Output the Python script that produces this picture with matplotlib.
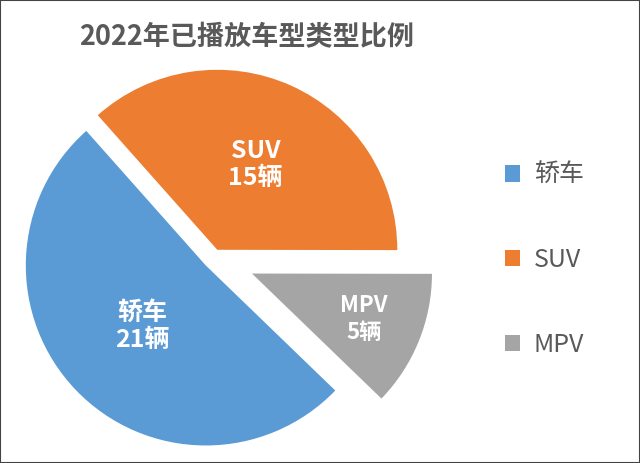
import numpy as np
import matplotlib.pyplot as plt
from matplotlib.patches import Rectangle

plt.rcParams['font.family'] = ['Noto Sans CJK SC', 'DejaVu Sans']

categories = ['轿车', 'SUV', 'MPV']
counts = [21, 15, 5]
colors = ['#5B9BD5', '#ED7D31', '#A5A5A5']
explode = [0.06, 0.05, 0.23]

W, H = 640, 463
fig = plt.figure(figsize=(W / 100, H / 100), dpi=100)
ax = fig.add_axes([0, 0, 1, 1])

R = 180
cx, cy = 213.6, H - 258
# explode is in data units here, so scale by radius
wedges, texts = ax.pie(counts, colors=colors, explode=[e * R for e in explode],
                       startangle=-44, counterclock=False, radius=R, center=(cx, cy),
                       wedgeprops=dict(linewidth=0))
ax.set_xlim(0, W)
ax.set_ylim(0, H)
ax.set_aspect('equal')
ax.axis('off')

label_r = [0.49, 0.52, 0.67]
label_size = [18, 18, 16]
for w, cat, n, fr, fs in zip(wedges, categories, counts, label_r, label_size):
    ang = np.deg2rad((w.theta1 + w.theta2) / 2)
    wx, wy = w.center
    r = w.r * fr
    ax.text(wx + r * np.cos(ang), wy + r * np.sin(ang), f'{cat}\n{n}辆',
            ha='center', va='center', color='white', fontsize=fs,
            fontweight='bold', linespacing=1.2)

fig.text(247 / W, 1 - 37 / H, '2022年已播放车型类型比例', ha='center', va='center',
         fontsize=19.5, fontweight='bold', color='#595959')

leg = ax.legend(wedges, categories, loc='center left', bbox_to_anchor=(482 / W, 1 - 260 / H),
                bbox_transform=fig.transFigure, frameon=False, fontsize=18,
                labelspacing=2.35, handlelength=0.62, handleheight=0.62, handletextpad=0.55,
                labelcolor='#595959')

fig.patches.append(Rectangle((0, 0), 1, 1, transform=fig.transFigure, fill=False,
                             edgecolor='#444444', linewidth=1.5))

fig.savefig('out.png', dpi=100, facecolor='white')
